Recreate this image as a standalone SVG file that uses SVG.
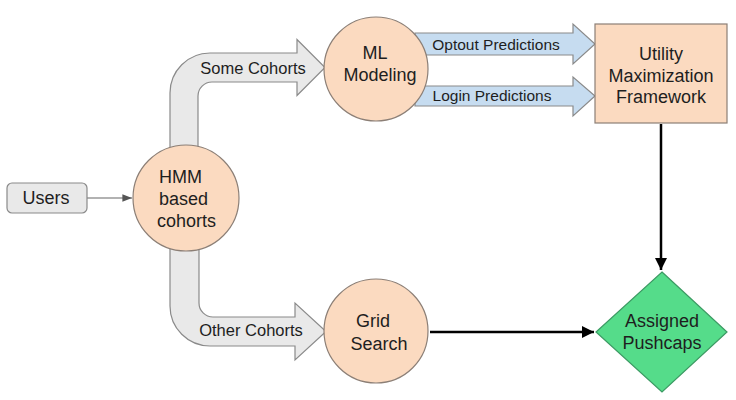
<svg xmlns="http://www.w3.org/2000/svg" width="736" height="400" viewBox="0 0 736 400">
<defs>
<style>
text{font-family:"Liberation Sans",Arial,sans-serif;fill:#1e1e1e;text-anchor:middle}
.node{fill:#fbdac0;stroke:#8c7f76;stroke-width:1.2}
.gray{fill:#e9e9e9;stroke:#8a8a8a;stroke-width:1.2}
.blue{fill:#c6dcf0;stroke:#8a8a8a;stroke-width:1.2}
.lbl{font-size:18px}
.glbl{font-size:16.5px}
.small{font-size:15.5px}
.bold{stroke:#000;stroke-width:2.5;fill:none}
</style>
<marker id="ah" viewBox="0 0 10 10" refX="10" refY="5" markerWidth="5" markerHeight="5" orient="auto" markerUnits="strokeWidth">
<path d="M0,0 L10,5 L0,10 z" fill="#000"/>
</marker>
<marker id="ahs" viewBox="0 0 10 10" refX="10" refY="5" markerWidth="8" markerHeight="8" orient="auto" markerUnits="strokeWidth">
<path d="M0,1 L10,5 L0,9 z" fill="#555"/>
</marker>
</defs>
<g id="connectors">
<line x1="87" y1="198" x2="132" y2="198" stroke="#666" stroke-width="1.2" marker-end="url(#ahs)"/>
<g id="some-cohorts">
<path class="gray" d="M170,165 L170,93 A40,40 0 0 1 210,53 L297,53 L297,39.5 L325,67.5 L297,95.5 L297,82 L212,82 A14,14 0 0 0 198,96 L198,165 Z"/>
<text class="glbl" x="253" y="74">Some Cohorts</text>
</g>
<g id="other-cohorts">
<path class="gray" d="M170,235 L170,306 A40,40 0 0 0 210,346 L295,346 L295,360 L326,331.5 L295,303 L295,317 L213,317 A14,14 0 0 1 199,303 L199,235 Z"/>
<text class="glbl" x="251" y="336">Other Cohorts</text>
</g>
<g id="optout">
<path class="blue" d="M415,33 L573,33 L573,24 L595,44 L573,64 L573,55 L415,55 Z"/>
<text class="small" x="496" y="50">Optout Predictions</text>
</g>
<g id="login">
<path class="blue" d="M415,86 L573,86 L573,77 L595,96 L573,116 L573,106 L415,106 Z"/>
<text class="small" x="492" y="101">Login Predictions</text>
</g>
<line class="bold" x1="661" y1="124" x2="661" y2="270" marker-end="url(#ah)"/>
<line class="bold" x1="430" y1="332" x2="594" y2="332" marker-end="url(#ah)"/>
</g>
<g id="users">
<rect x="7" y="183" width="80" height="30" rx="5" fill="#e9e9e9" stroke="#8a8a8a" stroke-width="1.2"/>
<text class="lbl" x="46" y="204">Users</text>
</g>
<g id="hmm">
<circle class="node" cx="186" cy="198" r="53"/>
<text class="lbl" x="159" y="183" style="text-anchor:start">HMM</text>
<text class="lbl" x="159" y="205" style="text-anchor:start">based</text>
<text class="lbl" x="157" y="227" style="text-anchor:start">cohorts</text>
</g>
<g id="ml">
<circle class="node" cx="376" cy="69" r="52"/>
<text class="lbl" x="375" y="59">ML</text>
<text class="lbl" x="380" y="81">Modeling</text>
</g>
<g id="grid">
<circle class="node" cx="376" cy="331" r="52"/>
<text class="lbl" x="373" y="327">Grid</text>
<text class="lbl" x="379" y="350">Search</text>
</g>
<g id="utility">
<rect x="595" y="24" width="132" height="99" fill="#fbdac0" stroke="#8c7f76" stroke-width="1.2"/>
<text class="lbl" x="661" y="60">Utility</text>
<text class="lbl" x="661" y="82">Maximization</text>
<text class="lbl" x="661" y="103">Framework</text>
</g>
<g id="pushcaps">
<path d="M662,272 L727,332 L662,392 L596,332 Z" fill="#55dc8a" stroke="#3c9a63" stroke-width="1.2"/>
<text class="lbl" x="662" y="327">Assigned</text>
<text class="lbl" x="662" y="349">Pushcaps</text>
</g>
</svg>
